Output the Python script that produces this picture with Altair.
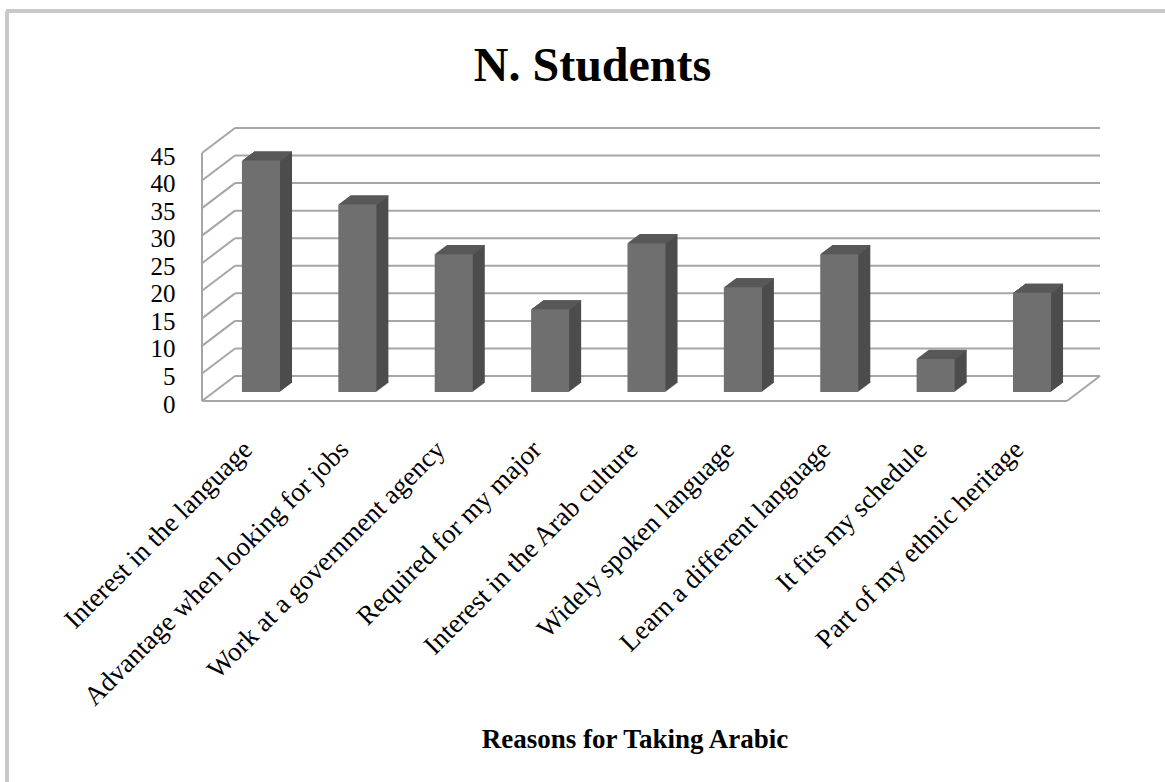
import altair as alt
import pandas as pd

# Survey answers: why students take Arabic, and how many gave each reason
reasons = [
    "Interest in the language",
    "Advantage when looking for jobs",
    "Work at a government agency",
    "Required for my major",
    "Interest in the Arab culture",
    "Widely spoken language",
    "Learn a different language",
    "It fits my schedule",
    "Part of my ethnic heritage",
]
students = [42, 34, 25, 15, 27, 19, 25, 6, 18]

# Value-axis ticks
tick_values = [0, 5, 10, 15, 20, 25, 30, 35, 40, 45]

# ---- layout / style constants ----
W, H = 865, 248            # front plane of the 3-D box
YMAX = 45
DEPTH_X, DEPTH_Y = 33, 25  # front-to-back shift of the box
BAR_X, BAR_Y = 12, 9       # front plane of the bars, and their depth
PAD_IN, PAD_OUT = 0.605, 0.29
SERIF = "Liberation Serif"
GRID = "#a6a6a6"
FRONT, SIDE, TOP = "#6f6f6f", "#4c4c4c", "#585858"
PX = YMAX / H              # data units per pixel on the value axis
N = len(reasons)
BAND = W / (N - PAD_IN + 2 * PAD_OUT) * (1 - PAD_IN)   # bar width in pixels

bars = pd.DataFrame({"reason": reasons, "n": students})
ticks = pd.DataFrame({"v": tick_values})

yscale = alt.Scale(domain=[0, YMAX], nice=False, zero=True)
yaxis = alt.Axis(
    values=tick_values, title=None, labelFont=SERIF, labelFontSize=25,
    labelColor="black", labelPadding=27, labelFlush=False, labelOverlap=False,
    labelOffset=3, domain=False, ticks=False, grid=False,
)


def yv(field):
    return alt.Y(field, scale=yscale, axis=yaxis)


xenc = alt.X(
    "reason:N",
    sort=reasons,
    scale=alt.Scale(paddingInner=PAD_IN, paddingOuter=PAD_OUT),
    axis=alt.Axis(
        title="Reasons for Taking Arabic",
        labelAngle=-45,
        labelFont=SERIF,
        labelFontSize=27,
        labelColor="black",
        labelLimit=600,
        labelPadding=35,
        labelOffset=-10,
        labelOverlap=False,
        domain=False,
        ticks=False,
        grid=False,
        titleFont=SERIF,
        titleFontSize=27,
        titleFontWeight="bold",
        titleColor="black",
        titleBaseline="alphabetic",
        titleY=346,
    ),
)

# Back wall gridlines
back_grid = alt.Chart(ticks).mark_rule(
    color=GRID, strokeWidth=2, yOffset=-DEPTH_Y
).encode(
    y=yv("v:Q"),
    x=alt.value(DEPTH_X),
    x2=alt.value(W + DEPTH_X),
)

# Left side wall: diagonals from front edge to back wall
side_wall = alt.Chart(ticks).transform_calculate(
    v_back=f"datum.v + {DEPTH_Y * PX}"
).mark_rule(color=GRID, strokeWidth=2).encode(
    y=yv("v:Q"),
    y2="v_back:Q",
    x=alt.value(0),
    x2=alt.value(DEPTH_X),
)

# Front-left edge of the side wall
wall_edge = alt.Chart(ticks).mark_rule(color=GRID, strokeWidth=2).encode(
    y=yv("min(v):Q"),
    y2="max(v):Q",
    x=alt.value(0),
)

# Floor: front edge and right edge
floor_front = alt.Chart(ticks).transform_filter("datum.v == 0").mark_rule(
    color=GRID, strokeWidth=2
).encode(y=yv("v:Q"), x=alt.value(0), x2=alt.value(W))

floor_right = alt.Chart(ticks).transform_filter("datum.v == 0").transform_calculate(
    v_back=f"datum.v + {DEPTH_Y * PX}"
).mark_rule(color=GRID, strokeWidth=2).encode(
    y=yv("v:Q"),
    y2="v_back:Q",
    x=alt.value(W),
    x2=alt.value(W + DEPTH_X),
)

layers = [back_grid, side_wall, wall_edge, floor_front, floor_right]

# Bars: dark side faces built from shifted copies, then top faces, then the front
steps = list(range(1, BAR_X + 1))
ratio = BAR_Y / BAR_X
base = alt.Chart(bars)
for k in steps:
    layers.append(
        base.mark_bar(color=SIDE, xOffset=BAR_X + k, yOffset=-(BAR_Y + k * ratio)).encode(
            x=xenc, y=yv("n:Q")
        )
    )
for k in steps:
    layers.append(
        base.mark_tick(
            color=TOP, size=BAND, thickness=1.2, opacity=1,
            xOffset=BAR_X + k, yOffset=-(BAR_Y + k * ratio - 0.5),
        ).encode(x=xenc, y=yv("n:Q"))
    )
layers.append(
    base.mark_bar(color=FRONT, xOffset=BAR_X, yOffset=-BAR_Y).encode(
        x=xenc, y=yv("n:Q")
    )
)

# Outer frame of the chart area (left and top edges)
frame_left = alt.Chart(ticks).mark_rule(color="#c8c8c8", strokeWidth=2.5).encode(
    x=alt.value(-195), y=alt.value(-142), y2=alt.value(640)
)
frame_top = alt.Chart(ticks).mark_rule(color="#c8c8c8", strokeWidth=2.5).encode(
    x=alt.value(-196), x2=alt.value(980), y=alt.value(-142)
)
layers += [frame_left, frame_top]

chart = alt.layer(*layers).properties(
    width=W,
    height=H,
    background="white",
    title=alt.Title(
        "N. Students",
        font=SERIF,
        fontSize=48,
        fontWeight="bold",
        color="black",
        anchor="middle",
        baseline="alphabetic",
        offset=0,
        dx=-42,
        dy=119,
    ),
    autosize=alt.AutoSizeParams(type="none"),
    padding={"left": 202, "top": 153, "right": 98, "bottom": 381},
).configure_view(stroke=None)

chart.save("out.html", embed_options={"renderer": "svg", "actions": False})
